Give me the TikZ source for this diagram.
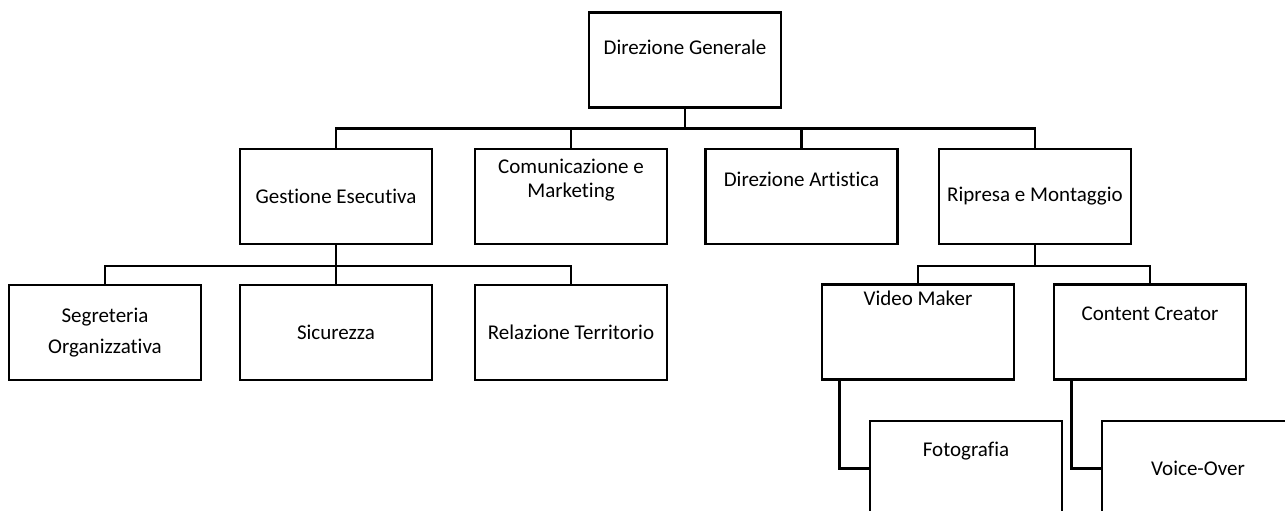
\documentclass[tikz,border=0pt]{standalone}
\usepackage{fontspec}
\setmainfont{Carlito}[Ligatures={NoCommon,NoContextual}]
\usepackage{tikz}
\usetikzlibrary{positioning,calc}

\tikzset{
  unit/.style={draw, line width=2.6pt, rectangle, minimum width=192pt, minimum height=95pt, inner sep=0pt, align=center},
  caption/.style={inner sep=0pt, align=center},
  link/.style={line width=2.6pt}
}

\begin{document}
\begin{tikzpicture}[x=1pt, y=-1pt, font=\fontsize{21}{25}\selectfont]
    \useasboundingbox (0,0) rectangle (1285,511);
    \clip (0,0) rectangle (1285,511);

    % top level
    \node[unit] (dg) at (685,60) {};
    \node[caption] (dgt) at ($(dg.north)+(0,36)$) {Direzione Generale};

    % second level
    \node[unit] (ge) at (336,196.5) {Gestione Esecutiva};
    \node[unit] (com) at (571,196.5) {};
    \node[caption] (comt) at ($(com.north)+(0,32)$) {Comunicazione e\\[-1pt]Marketing};
    \node[unit] (art) at (801.5,196.5) {};
    \node[caption] (artt) at ($(art.north)+(0,32)$) {Direzione Artistica};
    \node[unit] (rip) at (1035,196.5) {Ripresa e Montaggio};

    % third level
    \node[unit] (seg) at (105,332.5) {Segreteria\\[6pt]Organizzativa};
    \node[unit] (sic) at (336,332.5) {Sicurezza};
    \node[unit] (rel) at (571,332.5) {Relazione Territorio};
    \node[unit] (vm) at (918,332) {};
    \node[caption] (vmt) at ($(vm.north)+(0,15)$) {Video Maker};
    \node[unit] (cc) at (1150,332) {};
    \node[caption] (cct) at ($(cc.north)+(0,31)$) {Content Creator};

    % fourth level
    \node[unit] (foto) at (966,468.5) {};
    \node[caption] (fotot) at ($(foto.north)+(0,31)$) {Fotografia};
    \node[unit] (vo) at (1198,468.5) {Voice-Over};

    % connectors
    \foreach \c in {ge,com,art,rip}
        \draw[link] (dg.south) -- ++(0,19.5) -| (\c.north);
    \foreach \c in {seg,sic,rel}
        \draw[link] (ge.south) -- ++(0,20.5) -| (\c.north);
    \foreach \c in {vm,cc}
        \draw[link] (rip.south) -- ++(0,20.5) -| (\c.north);
    \draw[link] ([xshift=19pt]vm.south west) |- (foto.west);
    \draw[link] ([xshift=19pt]cc.south west) |- (vo.west);
\end{tikzpicture}
\end{document}
